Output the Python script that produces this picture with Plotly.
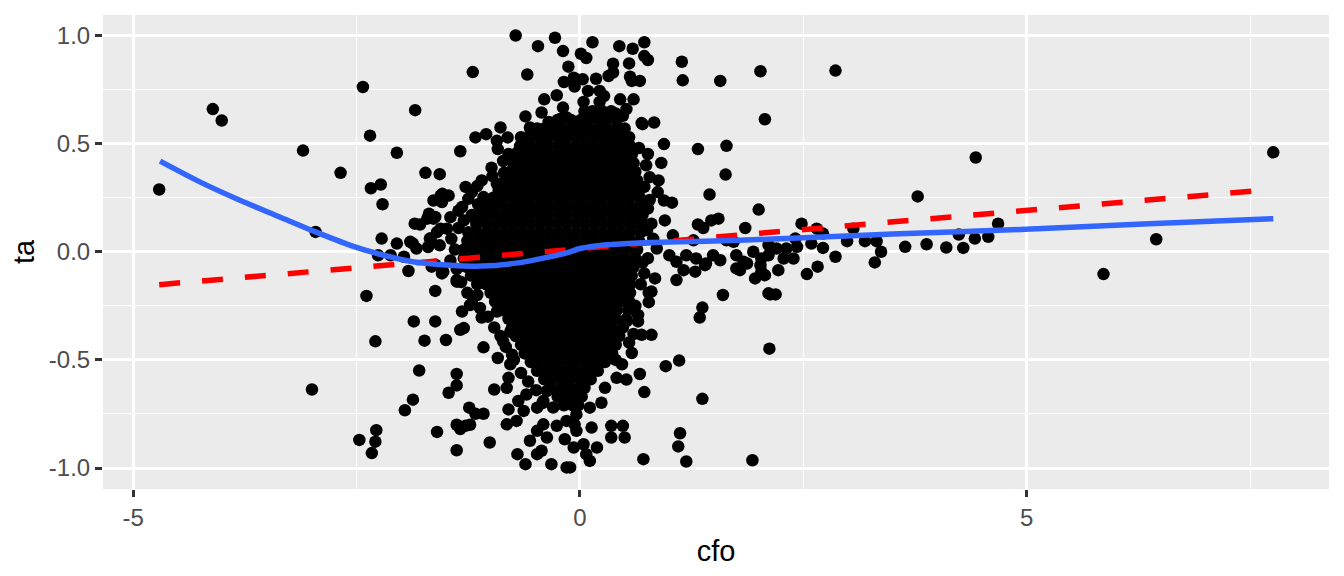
import plotly.graph_objects as go

# dense core of the cloud, read row by row (ta level -> cfo values)
core_ta = [0.65, 0.61, 0.57, 0.53, 0.49, 0.45, 0.41, 0.37, 0.33, 0.29, 0.25, 0.21,
           0.17, 0.13, 0.09, 0.05, 0.01, -0.03, -0.07, -0.11, -0.15, -0.19, -0.23,
           -0.27, -0.31, -0.35, -0.39, -0.43, -0.47, -0.51, -0.55, -0.59, -0.63,
           -0.67, -0.71]
core_cfo = [
    [0.05, 0.14, 0.25, 0.35],
    [-0.25, -0.10, 0.01, 0.10, 0.21, 0.30, 0.41],
    [-0.48, -0.40, -0.31, -0.20, -0.11, 0.00, 0.09, 0.20, 0.29, 0.40, 0.50],
    [-0.66, -0.55, -0.45, -0.35, -0.24, -0.15, -0.04, 0.05, 0.16, 0.25, 0.36, 0.45, 0.55],
    [-0.67, -0.56, -0.45, -0.36, -0.25, -0.16, -0.05, 0.06, 0.15, 0.26, 0.35, 0.46, 0.56],
    [-0.70, -0.59, -0.48, -0.38, -0.27, -0.18, -0.07, 0.02, 0.13, 0.22, 0.33, 0.42, 0.52, 0.58],
    [-0.74, -0.63, -0.52, -0.41, -0.32, -0.21, -0.12, -0.01, 0.08, 0.19, 0.28, 0.39, 0.48, 0.60],
    [-0.78, -0.67, -0.56, -0.46, -0.35, -0.26, -0.15, -0.06, 0.05, 0.14, 0.25, 0.34, 0.45, 0.54, 0.62],
    [-0.84, -0.73, -0.62, -0.51, -0.42, -0.31, -0.22, -0.11, -0.02, 0.09, 0.18, 0.29, 0.38, 0.49, 0.58, 0.64],
    [-0.90, -0.79, -0.68, -0.57, -0.48, -0.37, -0.28, -0.17, -0.08, 0.03, 0.12, 0.23, 0.32, 0.43, 0.52, 0.62, 0.66],
    [-0.97, -0.86, -0.75, -0.64, -0.55, -0.44, -0.35, -0.24, -0.15, -0.04, 0.05, 0.16, 0.25, 0.36, 0.45, 0.56, 0.67],
    [-1.06, -0.96, -0.85, -0.74, -0.65, -0.54, -0.45, -0.34, -0.25, -0.14, -0.05, 0.06, 0.15, 0.26, 0.35, 0.46, 0.55, 0.66, 0.69],
    [-1.15, -1.06, -0.95, -0.84, -0.75, -0.64, -0.55, -0.44, -0.35, -0.24, -0.15, -0.04, 0.05, 0.16, 0.25, 0.36, 0.45, 0.56, 0.65, 0.70],
    [-1.16, -1.05, -0.94, -0.85, -0.74, -0.65, -0.54, -0.45, -0.34, -0.25, -0.14, -0.05, 0.06, 0.15, 0.26, 0.35, 0.46, 0.55, 0.64, 0.70],
    [-1.25, -1.15, -1.04, -0.95, -0.84, -0.75, -0.64, -0.55, -0.44, -0.35, -0.24, -0.15, -0.04, 0.05, 0.16, 0.25, 0.36, 0.45, 0.56, 0.68],
    [-1.25, -1.14, -1.05, -0.94, -0.85, -0.74, -0.65, -0.54, -0.45, -0.34, -0.25, -0.14, -0.05, 0.06, 0.15, 0.26, 0.35, 0.46, 0.55, 0.66],
    [-1.30, -1.19, -1.10, -0.99, -0.90, -0.79, -0.70, -0.59, -0.50, -0.39, -0.30, -0.19, -0.10, 0.01, 0.10, 0.21, 0.30, 0.41, 0.50, 0.61, 0.64],
    [-1.30, -1.20, -1.09, -1.00, -0.89, -0.80, -0.69, -0.60, -0.49, -0.40, -0.29, -0.20, -0.09, 0.00, 0.11, 0.20, 0.31, 0.40, 0.51, 0.62],
    [-1.27, -1.16, -1.07, -0.96, -0.87, -0.76, -0.67, -0.56, -0.47, -0.36, -0.27, -0.16, -0.07, 0.04, 0.13, 0.24, 0.33, 0.44, 0.53, 0.60],
    [-1.22, -1.11, -1.02, -0.91, -0.82, -0.71, -0.62, -0.51, -0.42, -0.31, -0.22, -0.11, -0.02, 0.09, 0.18, 0.29, 0.38, 0.49, 0.58],
    [-1.15, -1.05, -0.94, -0.85, -0.74, -0.65, -0.54, -0.45, -0.34, -0.25, -0.14, -0.05, 0.06, 0.15, 0.26, 0.35, 0.46, 0.56],
    [-1.00, -0.90, -0.79, -0.70, -0.59, -0.50, -0.39, -0.30, -0.19, -0.10, 0.01, 0.10, 0.21, 0.30, 0.41, 0.50, 0.56],
    [-0.95, -0.84, -0.75, -0.64, -0.55, -0.44, -0.35, -0.24, -0.15, -0.04, 0.05, 0.16, 0.25, 0.36, 0.45, 0.55],
    [-0.88, -0.79, -0.68, -0.59, -0.48, -0.39, -0.28, -0.19, -0.08, 0.01, 0.12, 0.21, 0.32, 0.41, 0.54],
    [-0.80, -0.71, -0.60, -0.51, -0.40, -0.31, -0.20, -0.11, 0.00, 0.09, 0.20, 0.29, 0.40, 0.52],
    [-0.76, -0.65, -0.56, -0.45, -0.36, -0.25, -0.16, -0.05, 0.04, 0.15, 0.24, 0.35, 0.48],
    [-0.72, -0.61, -0.52, -0.41, -0.32, -0.21, -0.12, -0.01, 0.08, 0.19, 0.28, 0.39, 0.44],
    [-0.66, -0.57, -0.46, -0.37, -0.26, -0.17, -0.06, 0.03, 0.14, 0.23, 0.34, 0.40],
    [-0.62, -0.51, -0.42, -0.31, -0.22, -0.11, -0.02, 0.09, 0.18, 0.29, 0.36],
    [-0.55, -0.46, -0.35, -0.26, -0.15, -0.06, 0.05, 0.14, 0.24, 0.28],
    [-0.48, -0.37, -0.28, -0.17, -0.08, 0.03, 0.12, 0.20],
    [-0.40, -0.31, -0.20, -0.11, 0.00, 0.09, 0.12],
    [-0.32, -0.21, -0.12, -0.01, 0.05],
    [-0.25, -0.15, -0.05, 0.02],
    [-0.18, -0.08, -0.02],
]

# individually visible points (cfo, ta)
loose_pts = [
    # far left
    (-4.71, 0.288), (-4.11, 0.66), (-4.01, 0.607), (-3.10, 0.468), (-2.68, 0.365),
    (-2.96, 0.092), (-2.43, 0.762), (-1.845, 0.655), (-2.35, 0.537), (-2.05, 0.458),
    (-2.34, 0.294), (-2.23, 0.311), (-2.21, 0.22), (-2.22, 0.061), (-2.05, 0.038),
    (-2.26, -0.016), (-1.73, 0.365), (-1.57, 0.359), (-1.92, -0.089), (-1.87, 0.038),
    (-1.83, 0.015), (-1.85, 0.13), (-1.79, 0.126), (-1.69, 0.176), (-1.64, 0.153),
    (-1.64, 0.237), (-1.56, 0.26), (-1.545, 0.23), (-1.67, 0.061), (-1.56, 0.107),
    (-1.62, -0.06), (-1.545, -0.1), (-1.90, 0.046), (-2.12, -0.016), (-1.97, -0.023),
    (-1.66, -0.069), (-1.53, -0.092), (-1.62, -0.181), (-1.38, -0.131), (-1.71, 0.153),
    (-1.62, 0.161), (-1.47, 0.26), (-1.54, 0.268), (-1.32, 0.207), (-1.25, 0.245),
    (-1.08, 0.253), (-1.00, 0.23), (-0.91, 0.284), (-0.86, 0.245), (-1.45, 0.16),
    (-1.36, 0.19), (-1.30, 0.145), (-1.19, 0.16), (-1.04, 0.20), (-1.60, 0.091),
    (-1.49, 0.107), (-1.68, 0.061), (-1.57, 0.03), (-1.70, 0.022),
    # left flank of the cloud
    (-1.28, 0.30), (-1.10, 0.33), (-0.98, 0.35), (-0.86, 0.42), (-1.14, 0.22),
    (-1.21, 0.17), (-1.36, 0.11), (-1.44, 0.06), (-1.40, 0.01), (-1.45, -0.04),
    (-1.38, -0.08), (-1.33, -0.14), (-1.26, -0.19), (-1.12, -0.26), (-1.03, -0.30),
    (-0.96, -0.35), (-0.89, -0.39), (-0.83, -0.44), (-0.74, -0.50), (-0.66, -0.56),
    (-0.58, -0.60), (-0.49, -0.64), (-0.42, -0.70), (-0.30, -0.72), (-0.82, 0.31),
    (-0.70, 0.46), (-0.62, 0.50), (-0.55, 0.56), (-0.95, 0.17), (-1.26, 0.05),
    # upper left of the cloud
    (-1.34, 0.465), (-1.17, 0.529), (-1.05, 0.544), (-0.93, 0.513), (-0.81, 0.529),
    (-0.89, 0.575), (-0.61, 0.626), (-0.92, 0.475), (-0.80, 0.452), (-0.74, 0.421),
    (-0.67, 0.383), (-0.99, 0.389), (-0.85, 0.365), (-0.93, 0.314), (-0.74, 0.33),
    (-1.15, 0.304), (-1.21, 0.276), (-1.20, 0.831), (-0.56, 0.575),
    # lower left
    (-2.39, -0.204), (-1.86, -0.322), (-1.62, -0.322), (-2.29, -0.414), (-1.74, -0.411),
    (-1.50, -0.408), (-1.80, -0.549), (-3.00, -0.637), (-1.47, -0.652), (-1.87, -0.684),
    (-1.96, -0.733), (-2.28, -0.825), (-2.47, -0.87), (-2.29, -0.878), (-2.33, -0.931),
    (-1.60, -0.833), (-1.38, -0.565), (-1.38, -0.618), (-1.38, -0.918), (-1.38, -0.80),
    (-1.28, -0.805), (-1.23, -0.80), (-1.34, -0.82), (-1.24, -0.721), (-1.17, -0.749),
    (-1.08, -0.749), (-1.01, -0.882), (-0.96, -0.637), (-1.08, -0.442), (-0.92, -0.491),
    (-1.10, -0.304), (-1.32, -0.276), (-1.34, -0.361), (-1.30, -0.353), (-1.21, -0.238),
    (-1.15, -0.20), (-0.93, -0.276), (-1.23, -0.246), (-1.38, -0.138),
    (-0.70, -0.936), (-0.61, -0.982), (-0.48, -0.936), (-0.43, -0.92), (-0.32, -0.982),
    (-0.15, -0.997), (-0.07, -0.905), (-0.17, -0.867), (-0.56, -0.874), (-0.48, -0.828),
    (-0.37, -0.859), (-0.26, -0.805), (-0.41, -0.798), (-0.82, -0.798), (-0.80, -0.729),
    (-0.71, -0.782), (-0.82, -0.629), (-0.80, -0.583), (-0.69, -0.69), (-0.63, -0.736),
    (-0.48, -0.721), (-0.41, -0.69), (-0.37, -0.644), (-0.15, -0.782), (-0.04, -0.828),
    (-0.60, -0.66), (-0.78, -0.52), (-0.86, -0.414), (-0.78, -0.37), (-0.76, -0.476),
    # right flank of the cloud
    (0.74, 0.40), (0.72, 0.30), (0.78, 0.24), (0.75, 0.10), (0.82, 0.06),
    (0.70, -0.05), (0.76, -0.03), (0.68, -0.15), (0.72, -0.10), (0.62, -0.25),
    (0.60, -0.38), (0.55, -0.42), (0.47, -0.52), (0.40, -0.50), (0.66, 0.48),
    # lower right of the cloud
    (0.77, -0.19), (0.77, -0.233), (0.65, -0.292), (0.65, -0.322), (0.69, -0.384),
    (0.80, -0.384), (0.58, -0.468), (0.96, -0.529), (1.11, -0.503), (0.67, -0.565),
    (0.72, -0.649), (1.37, -0.68), (0.41, -0.583), (0.52, -0.591), (0.28, -0.629),
    (0.24, -0.698), (0.11, -0.721), (-0.04, -0.752), (-0.06, -0.798), (0.13, -0.813),
    (0.35, -0.805), (0.48, -0.805), (0.35, -0.859), (0.50, -0.859), (1.12, -0.839),
    (1.10, -0.90), (1.19, -0.97), (1.93, -0.964), (0.71, -0.959), (0.04, -0.89),
    (0.19, -0.905), (0.07, -0.936), (0.11, -0.967), (-0.11, -0.997), (1.60, -0.20),
    (2.11, -0.192), (1.37, -0.258), (1.34, -0.304), (2.12, -0.448), (0.52, -0.322),
    (0.30, -0.46),
    # tail to the right
    (0.84, -0.123), (1.08, -0.131), (0.80, -0.184), (1.16, -0.085), (1.29, -0.092),
    (1.40, -0.062), (1.75, -0.077), (1.96, -0.123), (2.03, -0.092), (0.86, 0.015),
    (1.00, -0.016), (1.08, -0.046), (1.19, -0.016), (1.30, -0.031), (1.41, -0.054),
    (1.49, -0.016), (1.57, -0.039), (1.75, -0.016), (1.83, -0.046), (1.94, 0.0),
    (2.03, -0.031), (2.11, 0.031), (1.04, 0.076), (1.27, 0.053), (1.64, 0.053),
    (1.72, 0.046), (1.32, 0.126), (1.38, 0.11), (1.47, 0.145), (1.55, 0.153),
    (1.85, 0.11), (0.95, 0.145), (0.80, 0.13), (0.76, 0.20), (0.94, 0.237),
    (1.03, 0.227), (0.78, 0.345), (0.88, 0.33), (0.87, 0.276), (0.94, 0.498),
    (0.76, 0.452), (0.91, 0.411), (0.69, 0.595), (0.83, 0.598), (1.32, 0.475),
    (1.64, 0.49), (1.63, 0.357), (1.45, 0.265), (2.00, 0.195), (2.07, 0.613),
    (1.14, 0.879), (1.15, 0.793), (1.57, 0.79), (2.02, 0.835), (2.86, 0.838),
    (2.48, 0.13), (2.65, 0.107), (2.72, 0.084), (3.06, 0.107), (2.41, 0.061),
    (2.43, 0.023), (2.31, 0.015), (2.20, 0.015), (2.28, -0.031), (2.39, -0.031),
    (2.59, 0.038), (2.72, 0.018), (2.99, 0.049), (3.19, 0.049), (3.32, 0.049),
    (2.86, -0.023), (3.37, 0.0), (3.30, -0.049), (3.64, 0.023), (3.88, 0.035),
    (4.10, 0.020), (4.29, 0.018), (4.42, 0.061), (4.57, 0.069), (4.68, 0.130),
    (4.24, 0.080), (2.66, -0.069), (2.54, -0.103), (2.13, -0.197), (2.19, -0.197),
    (2.22, -0.085), (2.11, -0.016), (2.02, -0.062), (1.87, -0.054), (1.79, -0.085),
    (2.07, -0.108), (3.78, 0.256), (4.43, 0.436), (5.86, -0.103), (6.45, 0.058),
    (7.76, 0.46),
    # top of the cloud
    (-0.72, 1.0), (-0.28, 0.99), (-0.47, 0.951), (-0.19, 0.928), (0.14, 0.969),
    (0.01, 0.916), (0.07, 0.896), (0.44, 0.951), (0.59, 0.939), (0.72, 0.969),
    (0.72, 0.905), (0.76, 0.887), (0.55, 0.871), (0.37, 0.870), (0.37, 0.829),
    (0.32, 0.813), (-0.13, 0.856), (-0.59, 0.820), (0.56, 0.81), (0.58, 0.79),
    (0.67, 0.79), (-0.18, 0.785), (-0.07, 0.805), (-0.06, 0.764), (0.03, 0.798),
    (0.18, 0.80), (0.09, 0.744), (0.22, 0.744), (0.27, 0.72), (0.22, 0.693),
    (-0.26, 0.724), (-0.40, 0.705), (0.04, 0.693), (0.45, 0.705), (0.60, 0.705),
    (0.48, 0.629), (0.70, 0.59), (-0.43, 0.644), (-0.19, 0.667), (-0.15, 0.621),
    (-0.22, 0.614), (-0.07, 0.568), (0.52, 0.66), (0.40, 0.64), (-0.35, 0.60),
]

# loess curve (blue) and linear fit (red dashed)
loess_cfo = [-4.70, -4.25, -3.80, -3.36, -2.96, -2.57, -2.27, -1.87, -1.45, -1.10,
             -0.67, -0.37, -0.15, 0.0, 0.15, 0.45, 1.0, 1.79, 2.5, 3.5, 4.93, 6.3, 7.76]
loess_ta = [0.419, 0.322, 0.237, 0.161, 0.092, 0.030, -0.008, -0.046, -0.062, -0.066,
            -0.050, -0.026, -0.005, 0.015, 0.026, 0.036, 0.045, 0.053, 0.065, 0.082,
            0.103, 0.128, 0.153]
lm_cfo = [-4.71, 7.74]
lm_ta = [-0.152, 0.288]

x_ticks = [-5, 0, 5]
y_ticks = [-1.0, -0.5, 0.0, 0.5, 1.0]
y_labels = ["-1.0", "-0.5", "0.0", "0.5", "1.0"]

# flatten
pts_x, pts_y = [], []
for ta, row in zip(core_ta, core_cfo):
    for c in row:
        pts_x.append(c)
        pts_y.append(ta)
for c, ta in loose_pts:
    pts_x.append(c)
    pts_y.append(ta)

fig = go.Figure()
fig.add_trace(go.Scatter(x=pts_x, y=pts_y, mode="markers",
                         marker=dict(size=12.5, color="black", line=dict(width=0)),
                         showlegend=False, hoverinfo="skip"))
fig.add_trace(go.Scatter(x=lm_cfo, y=lm_ta, mode="lines",
                         line=dict(color="#FF0000", width=5.5, dash="21px,22px"),
                         showlegend=False))
fig.add_trace(go.Scatter(x=loess_cfo, y=loess_ta, mode="lines",
                         line=dict(color="#3366FF", width=5.5, shape="spline", smoothing=0.8),
                         showlegend=False))

axis_common = dict(
    showgrid=True, gridcolor="white", gridwidth=2.8, zeroline=False, showline=False,
    ticks="outside", ticklen=7, tickwidth=2.8, tickcolor="#333333",
    tickfont=dict(family="Liberation Sans, Arial", size=24, color="#4D4D4D"),
)

# page body keeps its 8px margin, so the figure is 16px smaller than the window
fig.update_layout(
    width=1328, height=560,
    margin=dict(l=95, r=7, t=7, b=77),
    plot_bgcolor="#EBEBEB", paper_bgcolor="white",
    xaxis=dict(range=[-5.339, 8.384], tickvals=x_ticks, ticktext=[str(v) for v in x_ticks],
               minor=dict(tickvals=[-2.5, 2.5, 7.5], showgrid=True, gridcolor="white",
                          gridwidth=1.4, ticks=""),
               title=dict(text="cfo", standoff=10,
                          font=dict(family="Liberation Sans, Arial", size=29, color="black")),
               **axis_common),
    yaxis=dict(range=[-1.097, 1.095], tickvals=y_ticks, ticktext=y_labels,
               minor=dict(tickvals=[-0.75, -0.25, 0.25, 0.75], showgrid=True, gridcolor="white",
                          gridwidth=1.4, ticks=""),
               title=dict(text="ta", standoff=12,
                          font=dict(family="Liberation Sans, Arial", size=29, color="black")),
               **axis_common),
)

fig.write_html("out.html")
